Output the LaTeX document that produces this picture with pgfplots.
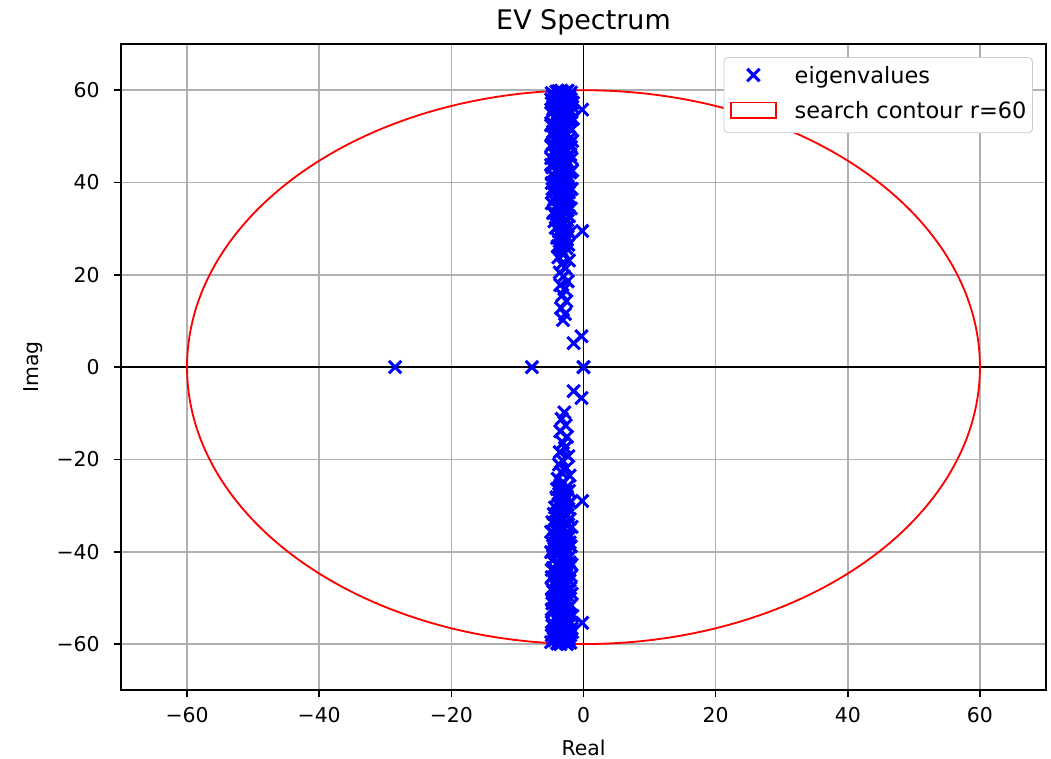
\documentclass[border=0pt]{standalone}
\usepackage{pgfplots}
\pgfplotsset{compat=1.18}
\usepackage{fontspec}
\setmainfont{DejaVu Sans}
\definecolor{gridgray}{HTML}{B0B0B0}
\definecolor{mplblue}{HTML}{0000FF}
\begin{document}
\begin{tikzpicture}
\begin{axis}[
  name=ax,
  scale only axis,
  width=453.4pt, height=316.7pt,
  xmin=-70, xmax=70, ymin=-70, ymax=70,
  xtick={-60,-40,-20,0,20,40,60},
  ytick={-60,-40,-20,0,20,40,60},
  xticklabels={−60,−40,−20,0,20,40,60},
  yticklabels={−60,−40,−20,0,20,40,60},
  xtick pos=lower, ytick pos=left,
  tick align=outside, major tick length=3.5pt,
  tick style={black, line width=0.8pt},
  axis line style={line width=0.8pt},
  grid=major,
  major grid style={gridgray, line width=0.8pt},
  ticklabel style={font=\fontsize{10}{12}\selectfont},
  xticklabel style={anchor=base, yshift=-12.2pt},
  yticklabel style={anchor=east, inner xsep=0pt, xshift=-6.8pt},
  xlabel={Real}, ylabel={Imag},
  label style={font=\fontsize{10}{12}\selectfont},
  xlabel style={at={(axis description cs:0.5,-0.1007)}, anchor=base},
  ylabel style={at={(axis description cs:-0.0951,0.5)}, anchor=center},
  title={EV Spectrum},
  every axis title shift=0pt,
  title style={font=\fontsize{13.2}{15}\selectfont, at={(axis description cs:0.5,1.0218)}, anchor=base},
  legend style={at={(1,1)}, xshift=-6.4pt, yshift=-6.4pt, anchor=north east,
    draw=black!20, rounded corners=2pt, font=\fontsize{11}{13}\selectfont,
    inner xsep=3pt, inner ysep=4.4pt, row sep=6.4pt, column sep=8.8pt,
    nodes={inner sep=0pt, text height=8.2pt, text depth=2.6pt}},
  legend cell align=left,
  clip=true,
]
\draw[black, line width=0.7pt] (axis cs:-70,0) -- (axis cs:70,0);
\draw[black, line width=0.7pt] (axis cs:0,-70) -- (axis cs:0,70);
\addplot[only marks, mark=x, mark size=4.3pt, mplblue, line width=1.5pt,
  legend image code/.code={\draw[mark repeat=2,mark phase=2] plot coordinates {(0pt,1.2pt) (11pt,1.2pt) (22pt,1.2pt)};}] coordinates {
(-28.5,0) (-7.8,0) (0,0)
(-1.5,5.2) (-0.3,6.7) (-1.5,-5.2) (-0.3,-6.7)
(-0.2,29.5) (-0.2,-29.0) (-0.2,55.8) (-0.2,-55.4)
(-3.1,10.2) (-2.8,11.5) (-3.4,12.8) (-2.6,14.3) (-3.2,15.6) (-2.9,16.9) (-3.5,17.8) (-2.4,18.6)
(-3.0,19.7) (-3.6,20.5) (-2.7,21.4) (-3.3,22.3) (-2.2,23.1) (-3.8,23.8) (-2.9,24.6) (-3.4,25.3)
(-3.4,25.5) (-2.6,25.8) (-3.9,26.2) (-2.3,26.5) (-3.1,26.9) (-3.6,27.3) (-2.5,27.6) (-4.0,28.0)
(-2.8,28.3) (-3.3,28.7) (-2.1,29.1) (-3.7,29.4) (-2.9,29.8) (-4.2,30.2) (-2.4,30.5) (-3.5,30.9)
(-3.0,31.3) (-4.4,31.6) (-2.6,32.0) (-3.8,32.3) (-2.2,32.7) (-3.2,33.0) (-4.6,33.4) (-2.7,33.7)
(-3.6,34.1) (-1.9,34.4) (-4.1,34.8) (-3.0,35.1) (-4.8,35.5) (-2.5,35.8) (-3.4,36.2) (-2.0,36.5)
(-4.3,36.9) (-3.7,37.2) (-2.8,37.5) (-4.6,37.9) (-3.1,38.2) (-1.8,38.6) (-4.0,38.9) (-2.4,39.2)
(-3.5,39.6) (-4.8,39.9) (-2.9,40.3) (-3.9,40.6) (-2.2,40.9) (-4.4,41.3) (-3.3,41.6) (-2.6,42.0)
(-4.1,42.3) (-1.7,42.6) (-3.6,43.0) (-4.7,43.3) (-3.0,43.6) (-2.3,44.0) (-4.2,44.3) (-3.8,44.7)
(-2.7,45.0) (-4.9,45.3) (-3.2,45.7) (-2.0,46.0) (-4.5,46.3) (-3.5,46.7) (-2.5,47.0) (-4.0,47.4)
(-1.9,47.7) (-3.4,48.0) (-4.7,48.4) (-2.8,48.7) (-3.9,49.0) (-2.2,49.4) (-4.3,49.7) (-3.1,50.0)
(-4.8,50.4) (-2.6,50.7) (-3.7,51.1) (-1.8,51.4) (-4.1,51.7) (-3.3,52.1) (-2.4,52.4) (-4.6,52.7)
(-3.0,53.1) (-2.0,53.4) (-3.8,53.8) (-4.4,54.1) (-2.7,54.4) (-3.5,54.8) (-4.9,55.1) (-2.3,55.4)
(-3.2,55.8) (-4.2,56.1) (-1.7,56.4) (-3.9,56.8) (-2.9,57.1) (-4.7,57.4) (-2.5,57.8) (-3.6,58.1)
(-4.3,58.4) (-2.1,58.8) (-3.0,59.1) (-4.8,59.4) (-2.6,59.7) (-3.4,59.9)
(-4.5,59.0) (-1.9,59.5) (-3.8,59.8) (-2.2,58.3) (-4.0,57.6) (-3.3,57.0) (-2.8,56.3) (-4.4,55.7)
(-2.0,55.0) (-3.6,53.5) (-4.6,51.0) (-2.9,49.8) (-3.1,48.2) (-4.2,46.5) (-2.4,44.5) (-3.7,42.8)
(-4.5,40.0) (-3.2,39.0) (-2.7,36.6) (-3.9,35.3) (-4.1,33.2) (-2.9,31.0) (-3.3,27.8)
(-3.7,25.9) (-2.9,26.6) (-3.5,28.5) (-2.5,29.6) (-3.9,31.9) (-3.3,32.6) (-2.4,34.0) (-3.5,35.6)
(-4.5,36.2) (-2.2,37.9) (-3.6,38.5) (-4.2,39.4) (-2.6,40.6) (-3.4,41.0) (-4.8,41.8) (-2.0,42.2)
(-3.2,43.3) (-4.5,43.9) (-2.9,44.6) (-3.6,45.4) (-2.3,45.9) (-4.3,47.1) (-3.0,47.2) (-2.1,48.4)
(-4.0,48.8) (-3.5,49.5) (-2.5,50.3) (-4.2,50.9) (-3.4,51.4) (-2.1,52.0) (-4.9,52.4) (-3.9,52.9)
(-2.8,53.6) (-4.1,54.5) (-3.0,54.9) (-1.8,55.3) (-4.6,55.9) (-3.5,56.5) (-2.4,56.9) (-4.4,57.1)
(-3.1,57.6) (-1.9,58.0) (-4.6,58.7) (-3.4,58.6) (-2.8,59.3) (-4.1,59.7) (-3.2,59.6) (-2.4,59.9)
(-4.9,58.0) (-1.6,57.3) (-1.6,53.8) (-1.7,49.0) (-1.8,45.2) (-4.9,47.9) (-4.9,43.8) (-4.7,38.6)
(-2.9,-9.8) (-3.3,-11.2) (-2.7,-12.6) (-3.5,-13.9) (-2.5,-15.1) (-3.1,-16.4) (-2.8,-17.5) (-3.6,-18.4)
(-2.3,-19.3) (-3.2,-20.2) (-3.7,-21.1) (-2.6,-21.9) (-3.4,-22.7) (-2.1,-23.5) (-3.9,-24.2) (-3.0,-25.0)
(-3.5,-25.6) (-2.5,-26.0) (-4.0,-26.4) (-2.2,-26.8) (-3.0,-27.1) (-3.7,-27.5) (-2.6,-27.9) (-4.1,-28.2)
(-2.7,-28.6) (-3.4,-28.9) (-2.0,-29.3) (-3.8,-29.7) (-3.0,-30.0) (-4.3,-30.4) (-2.3,-30.7) (-3.6,-31.1)
(-2.9,-31.5) (-4.5,-31.8) (-2.5,-32.2) (-3.9,-32.5) (-2.1,-32.9) (-3.3,-33.2) (-4.7,-33.6) (-2.8,-33.9)
(-3.5,-34.3) (-1.8,-34.6) (-4.2,-35.0) (-3.1,-35.3) (-4.9,-35.7) (-2.4,-36.0) (-3.5,-36.4) (-2.1,-36.7)
(-4.4,-37.1) (-3.6,-37.4) (-2.7,-37.7) (-4.7,-38.1) (-3.0,-38.4) (-1.9,-38.8) (-4.1,-39.1) (-2.5,-39.4)
(-3.4,-39.8) (-4.9,-40.1) (-2.8,-40.5) (-4.0,-40.8) (-2.1,-41.1) (-4.5,-41.5) (-3.2,-41.8) (-2.7,-42.2)
(-4.0,-42.5) (-1.8,-42.8) (-3.7,-43.2) (-4.6,-43.5) (-3.1,-43.8) (-2.2,-44.2) (-4.3,-44.5) (-3.7,-44.9)
(-2.6,-45.2) (-4.8,-45.5) (-3.3,-45.9) (-2.1,-46.2) (-4.4,-46.5) (-3.4,-46.9) (-2.6,-47.2) (-4.1,-47.6)
(-2.0,-47.9) (-3.5,-48.2) (-4.6,-48.6) (-2.7,-48.9) (-3.8,-49.2) (-2.3,-49.6) (-4.4,-49.9) (-3.2,-50.2)
(-4.7,-50.6) (-2.5,-50.9) (-3.6,-51.3) (-1.9,-51.6) (-4.2,-51.9) (-3.2,-52.3) (-2.5,-52.6) (-4.5,-52.9)
(-3.1,-53.3) (-2.1,-53.6) (-3.9,-54.0) (-4.3,-54.3) (-2.6,-54.6) (-3.4,-55.0) (-4.8,-55.3) (-2.4,-55.6)
(-3.3,-56.0) (-4.1,-56.3) (-1.8,-56.6) (-3.8,-57.0) (-2.8,-57.3) (-4.6,-57.6) (-2.4,-58.0) (-3.7,-58.3)
(-4.2,-58.6) (-2.2,-59.0) (-3.1,-59.3) (-4.9,-59.6) (-2.7,-59.8) (-3.5,-60.0)
(-4.4,-59.2) (-2.0,-59.7) (-3.9,-59.9) (-2.3,-58.5) (-4.1,-57.8) (-3.2,-57.2) (-2.9,-56.5) (-4.5,-55.9)
(-2.1,-55.2) (-3.5,-53.7) (-4.7,-51.2) (-2.8,-50.0) (-3.0,-48.4) (-4.3,-46.7) (-2.5,-44.7) (-3.6,-43.0)
(-4.4,-40.2) (-3.3,-39.2) (-2.6,-36.8) (-4.0,-35.5) (-4.0,-33.4) (-3.0,-31.2) (-3.2,-28.0)
(-3.6,-26.1) (-2.8,-26.7) (-3.4,-28.4) (-2.4,-29.8) (-4.0,-31.7) (-3.2,-32.8) (-2.3,-34.1) (-3.6,-35.7)
(-4.4,-36.1) (-2.1,-38.0) (-3.7,-38.6) (-4.3,-39.5) (-2.7,-40.7) (-3.3,-41.1) (-4.7,-41.9) (-2.1,-42.3)
(-3.3,-43.4) (-4.4,-44.0) (-2.8,-44.7) (-3.5,-45.5) (-2.4,-46.0) (-4.2,-47.2) (-3.1,-47.3) (-2.2,-48.5)
(-4.1,-48.9) (-3.4,-49.6) (-2.6,-50.4) (-4.3,-51.0) (-3.5,-51.5) (-2.2,-52.1) (-4.8,-52.5) (-3.8,-53.0)
(-2.7,-53.7) (-4.0,-54.6) (-3.1,-55.0) (-1.9,-55.4) (-4.7,-56.0) (-3.4,-56.6) (-2.5,-57.0) (-4.3,-57.2)
(-3.0,-57.7) (-2.0,-58.1) (-4.5,-58.8) (-3.5,-58.7) (-2.9,-59.4) (-4.0,-59.8) (-3.3,-59.5) (-2.5,-60.0)
(-4.8,-58.1) (-1.7,-57.4) (-1.7,-53.9) (-1.8,-49.1) (-1.9,-45.3) (-4.8,-48.0) (-4.8,-43.9) (-4.6,-38.7)
};
\addlegendentry{eigenvalues}
\draw[red, line width=0.9pt] (axis cs:0,0) ellipse [x radius=60, y radius=60];
\addlegendimage{legend image code/.code={\draw[red, line width=0.9pt, fill=white, sharp corners] (0pt,-2.65pt) rectangle (22pt,5.05pt);}}
\addlegendentry{search contour r=60}
\end{axis}
\pgfresetboundingbox
\path[use as bounding box] ([xshift=-59.3pt,yshift=-33.3pt]ax.south west) rectangle ([xshift=2.45pt,yshift=21.6pt]ax.north east);
\end{tikzpicture}
\end{document}
